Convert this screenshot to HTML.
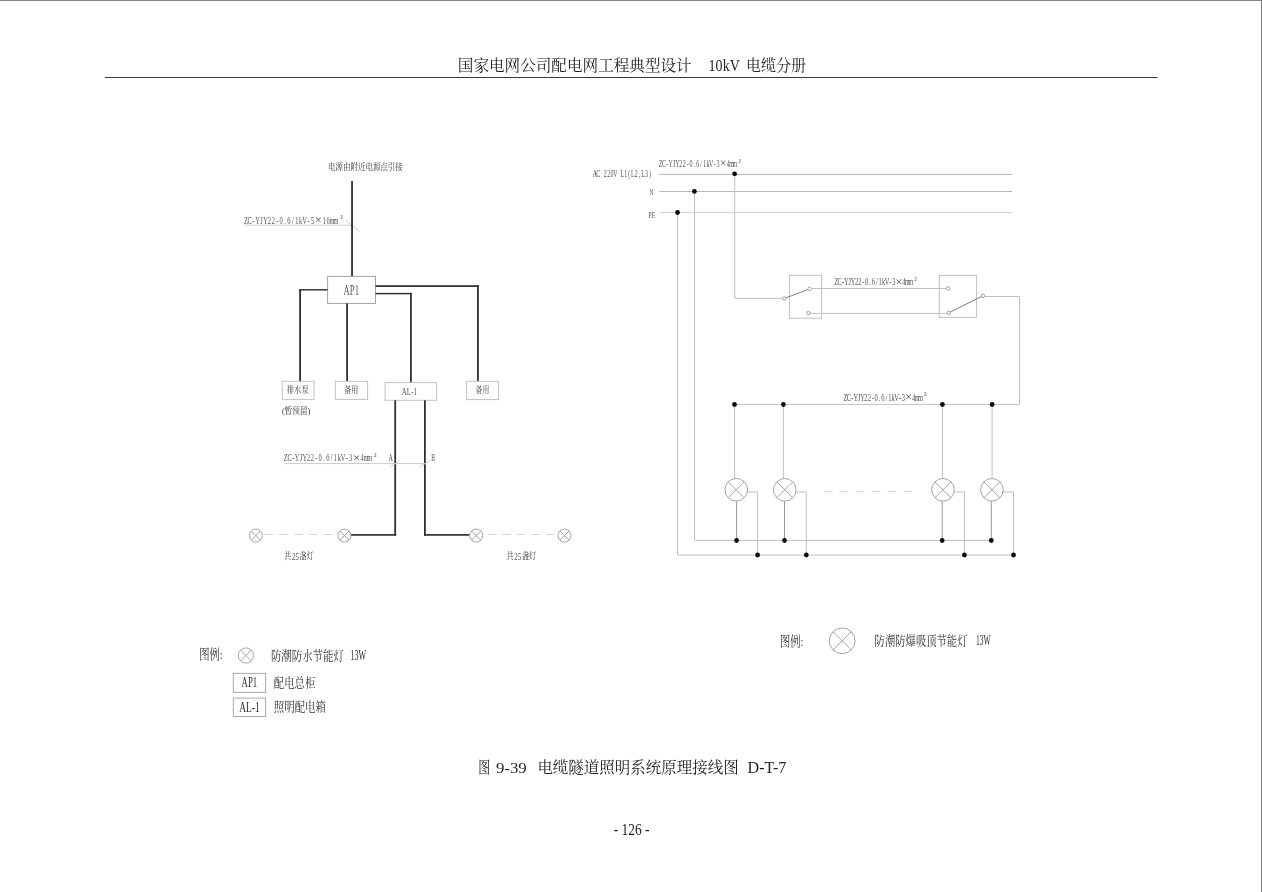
<!DOCTYPE html>
<html lang="zh-CN"><head><meta charset="utf-8"><title>图 9-39 电缆隧道照明系统原理接线图 D-T-7</title>
<style>html,body{margin:0;padding:0;background:#fff}body{width:1262px;height:892px;overflow:hidden;position:relative;font-family:"Liberation Serif","Noto Serif CJK SC",serif}svg{position:absolute;left:0;top:0;display:block;will-change:transform}svg text{font-family:"Liberation Serif","Noto Serif CJK SC",serif;white-space:pre}</style>
</head><body>
<svg width="1262" height="892" viewBox="0 0 1262 892" role="img" aria-label="图 9-39 电缆隧道照明系统原理接线图 D-T-7">
<rect x="0" y="0" width="1262" height="1" fill="#848484"/>
<rect x="1261" y="0" width="1" height="892" fill="#787878"/>
<text x="457.8" y="70.79" font-size="15.8" textLength="233.9" lengthAdjust="spacingAndGlyphs" fill="#1e1e1e">国家电网公司配电网工程典型设计</text>
<text x="708.6" y="70.8" font-size="16" textLength="31.2" lengthAdjust="spacingAndGlyphs" fill="#1e1e1e" font-family="Liberation Serif">10kV</text>
<text x="745.9" y="70.79" font-size="15.8" textLength="60" lengthAdjust="spacingAndGlyphs" fill="#1e1e1e">电缆分册</text>
<rect x="105" y="77" width="1052.5" height="1" fill="#3a3a3a"/>
<text x="478.2" y="772.93" font-size="16.2" textLength="12" lengthAdjust="spacingAndGlyphs" fill="#1e1e1e">图</text>
<text x="495.9" y="772.5" font-size="15.2" textLength="30.9" lengthAdjust="spacingAndGlyphs" fill="#1e1e1e" font-family="Liberation Serif">9-39</text>
<text x="537.4" y="772.79" font-size="15.8" textLength="201.3" lengthAdjust="spacingAndGlyphs" fill="#1e1e1e">电缆隧道照明系统原理接线图</text>
<text x="747.6" y="772.5" font-size="15.8" textLength="38.8" lengthAdjust="spacingAndGlyphs" fill="#1e1e1e" font-family="Liberation Serif">D-T-7</text>
<text x="613.7" y="834.8" font-size="16.2" textLength="35.9" lengthAdjust="spacingAndGlyphs" fill="#1e1e1e" font-family="Liberation Serif">- 126 -</text>
<text x="328" y="170.11" font-size="9.2" textLength="74.8" lengthAdjust="spacingAndGlyphs" fill="#323232">电源由附近电源点引接</text>
<text transform="scale(0.6200,1)" x="393.37 399.4 407.46 411.76 419.82 424.41 431.88 438.21 445.4 450.85 458.47 463.5 470.97 476.14 482.46 487.63 495.98 501.43" y="223.9" font-size="10.4" fill="#555">ZC-YJY22-0.6/1kV-5</text>
<text x="314.8" y="224.1" font-size="12.69" fill="#555">×</text>
<text transform="scale(0.6200,1)" x="520.4 526.72 531.6 537.92" y="223.9" font-size="10.4" fill="#555">16mm</text>
<text transform="scale(0.8,1)" x="425.17" y="222.2" font-size="10.4" fill="#555">²</text>
<path d="M244.3 225.2 L352 225.2" fill="none" stroke="#cbcbcb" stroke-width="1"/>
<path d="M345.8 220.6 L359.5 231.3" fill="none" stroke="#cbcbcb" stroke-width="1"/>
<rect x="351.15" y="181" width="1.8" height="95.4" fill="#303030"/>
<rect x="327.6" y="276.4" width="47.9" height="27" fill="none" stroke="#a4a4a4" stroke-width="1"/>
<text x="343.6" y="294.9" font-size="15.1" textLength="15.4" lengthAdjust="spacingAndGlyphs" fill="#555" font-family="Liberation Serif">AP1</text>
<rect x="299.2" y="289.07" width="28.3" height="1.45" fill="#303030"/>
<rect x="299.2" y="289.07" width="1.8" height="92.23" fill="#303030"/>
<rect x="346.2" y="303.4" width="1.8" height="77.9" fill="#303030"/>
<rect x="375.5" y="292.88" width="36.3" height="1.45" fill="#303030"/>
<rect x="410" y="292.88" width="1.8" height="89.73" fill="#303030"/>
<rect x="375.5" y="285.23" width="103.3" height="1.75" fill="#303030"/>
<rect x="477" y="285.23" width="1.8" height="96.07" fill="#303030"/>
<rect x="282.2" y="381.3" width="31.9" height="18.1" fill="none" stroke="#c2c2c2" stroke-width="1"/>
<text x="286.8" y="393.48" font-size="9.4" textLength="21.9" lengthAdjust="spacingAndGlyphs" fill="#323232">排水泵</text>
<rect x="335.3" y="381.3" width="32.3" height="18.1" fill="none" stroke="#c2c2c2" stroke-width="1"/>
<text x="344.2" y="393.48" font-size="9.4" textLength="14" lengthAdjust="spacingAndGlyphs" fill="#323232">备用</text>
<rect x="385.1" y="382.6" width="51.5" height="17.7" fill="none" stroke="#c2c2c2" stroke-width="1"/>
<text x="401.8" y="394.6" font-size="10.9" textLength="15.2" lengthAdjust="spacingAndGlyphs" fill="#555" font-family="Liberation Serif">AL-1</text>
<rect x="466.6" y="381.3" width="32" height="18.3" fill="none" stroke="#c2c2c2" stroke-width="1"/>
<text x="475.6" y="393.48" font-size="9.4" textLength="13.6" lengthAdjust="spacingAndGlyphs" fill="#323232">备用</text>
<text x="281.9" y="414.21" font-size="9.2" textLength="28.5" lengthAdjust="spacingAndGlyphs" fill="#323232">(暂预留)</text>
<rect x="394.3" y="400.3" width="1.8" height="135.45" fill="#303030"/>
<rect x="350.9" y="534.05" width="45.2" height="1.7" fill="#303030"/>
<rect x="424" y="400.3" width="1.8" height="135.45" fill="#303030"/>
<rect x="424" y="534.05" width="45.6" height="1.7" fill="#303030"/>
<text transform="scale(0.6200,1)" x="457.65 463.53 471.43 475.58 483.48 487.92 495.24 501.41 508.45 513.75 521.22 526.09 533.41 538.43 544.6 549.61 557.8 563.11" y="461.3" font-size="10.4" fill="#555">ZC-YJY22-0.6/1kV-3</text>
<text x="352.9" y="461.5" font-size="12.69" fill="#555">×</text>
<text transform="scale(0.6200,1)" x="581.61 586.34 592.51" y="461.3" font-size="10.4" fill="#555">4mm</text>
<text transform="scale(0.8,1)" x="467.35" y="459.6" font-size="10.4" fill="#555">²</text>
<text x="388.4" y="461.3" font-size="10.2" textLength="4.4" lengthAdjust="spacingAndGlyphs" fill="#555" font-family="Liberation Serif">A</text>
<text x="431.2" y="461.3" font-size="10.2" textLength="3.8" lengthAdjust="spacingAndGlyphs" fill="#555" font-family="Liberation Serif">B</text>
<path d="M284.2 463.6 L425.2 463.6" fill="none" stroke="#cbcbcb" stroke-width="1"/>
<path d="M390.5 467 L399.8 460.3" fill="none" stroke="#cbcbcb" stroke-width="1"/>
<path d="M420.2 467 L429.5 460.3" fill="none" stroke="#cbcbcb" stroke-width="1"/>
<circle cx="255.9" cy="535.6" r="6.5" fill="none" stroke="#a2a2a2" stroke-width="1"/>
<path d="M251.3 531 L260.5 540.2" fill="none" stroke="#a2a2a2" stroke-width="1"/>
<path d="M251.3 540.2 L260.5 531" fill="none" stroke="#a2a2a2" stroke-width="1"/>
<circle cx="344.4" cy="535.6" r="6.5" fill="none" stroke="#a2a2a2" stroke-width="1"/>
<path d="M339.8 531 L349 540.2" fill="none" stroke="#a2a2a2" stroke-width="1"/>
<path d="M339.8 540.2 L349 531" fill="none" stroke="#a2a2a2" stroke-width="1"/>
<circle cx="476.2" cy="535.6" r="6.5" fill="none" stroke="#a2a2a2" stroke-width="1"/>
<path d="M471.6 531 L480.8 540.2" fill="none" stroke="#a2a2a2" stroke-width="1"/>
<path d="M471.6 540.2 L480.8 531" fill="none" stroke="#a2a2a2" stroke-width="1"/>
<circle cx="564.5" cy="535.6" r="6.5" fill="none" stroke="#a2a2a2" stroke-width="1"/>
<path d="M559.9 531 L569.1 540.2" fill="none" stroke="#a2a2a2" stroke-width="1"/>
<path d="M559.9 540.2 L569.1 531" fill="none" stroke="#a2a2a2" stroke-width="1"/>
<path d="M264.2 534.5 L333 534.5" fill="none" stroke="#d6d6d6" stroke-width="1" stroke-dasharray="9 5.8"/>
<path d="M488 534.5 L555 534.5" fill="none" stroke="#d6d6d6" stroke-width="1" stroke-dasharray="8.4 6.1"/>
<text x="284.2" y="559.4" font-size="8.6" textLength="7" lengthAdjust="spacingAndGlyphs" fill="#323232">共</text>
<text x="292" y="559.8" font-size="9.6" textLength="7" lengthAdjust="spacingAndGlyphs" fill="#555" font-family="Liberation Serif">25</text>
<text x="299.6" y="559.4" font-size="8.6" textLength="14" lengthAdjust="spacingAndGlyphs" fill="#323232">盏灯</text>
<text x="506.6" y="559.2" font-size="8.6" textLength="7" lengthAdjust="spacingAndGlyphs" fill="#323232">共</text>
<text x="514.3" y="559.7" font-size="9.6" textLength="7" lengthAdjust="spacingAndGlyphs" fill="#555" font-family="Liberation Serif">25</text>
<text x="521.9" y="559.2" font-size="8.6" textLength="14.3" lengthAdjust="spacingAndGlyphs" fill="#323232">盏灯</text>
<text x="199.2" y="658.55" font-size="13.2" textLength="23.5" lengthAdjust="spacingAndGlyphs" fill="#2e2e2e">图例:</text>
<circle cx="245.9" cy="655.5" r="7.6" fill="none" stroke="#a6a6a6" stroke-width="1"/>
<path d="M240.53 650.13 L251.27 660.87" fill="none" stroke="#a6a6a6" stroke-width="1"/>
<path d="M240.53 660.87 L251.27 650.13" fill="none" stroke="#a6a6a6" stroke-width="1"/>
<text x="270.9" y="660.04" font-size="12.6" textLength="73" lengthAdjust="spacingAndGlyphs" fill="#2e2e2e">防潮防水节能灯</text>
<text x="350.4" y="660.2" font-size="14.4" textLength="15.6" lengthAdjust="spacingAndGlyphs" fill="#2e2e2e" font-family="Liberation Serif">13W</text>
<rect x="233.3" y="673.4" width="32.3" height="19" fill="none" stroke="#a8a8a8" stroke-width="1"/>
<text x="241.6" y="687" font-size="13.8" textLength="15.6" lengthAdjust="spacingAndGlyphs" fill="#2e2e2e" font-family="Liberation Serif">AP1</text>
<text x="273.8" y="686.51" font-size="12.8" textLength="41.5" lengthAdjust="spacingAndGlyphs" fill="#2e2e2e">配电总柜</text>
<rect x="233.3" y="698.1" width="32.3" height="18.4" fill="none" stroke="#a8a8a8" stroke-width="1"/>
<text x="239.3" y="711.6" font-size="13.6" textLength="20.4" lengthAdjust="spacingAndGlyphs" fill="#2e2e2e" font-family="Liberation Serif">AL-1</text>
<text x="273.8" y="710.81" font-size="12.8" textLength="52.2" lengthAdjust="spacingAndGlyphs" fill="#2e2e2e">照明配电箱</text>
<text transform="scale(0.6200,1)" x="1062.54 1067.72 1074.77 1078.35 1085.4 1089.25 1095.77 1101.22 1107.47 1112.12 1118.77 1123.02 1129.54 1133.92 1139.37 1143.75 1151.07 1155.72" y="167" font-size="9.6" fill="#555">ZC-YJY22-0.6/1kV-3</text>
<text x="719.8" y="167.2" font-size="11.71" fill="#555">×</text>
<text transform="scale(0.6200,1)" x="1172.07 1176.19 1181.64" y="167" font-size="9.6" fill="#555">4mm</text>
<text transform="scale(0.8,1)" x="923.1" y="165.3" font-size="9.6" fill="#555">²</text>
<text transform="scale(0.6200,1)" x="956.08 961.88 969.43 973.77 979.31 984.85 989.32 997.13 1000.94 1007.01 1013.35 1017.56 1023.63 1030.37 1034.18 1040.26 1046.6" y="177.4" font-size="9.6" fill="#555">AC 220V L1(L2,L3)</text>
<text x="649.5" y="195.4" font-size="8.6" textLength="3.9" lengthAdjust="spacingAndGlyphs" fill="#555" font-family="Liberation Serif">N</text>
<text x="648.3" y="218" font-size="8.6" textLength="7.2" lengthAdjust="spacingAndGlyphs" fill="#555" font-family="Liberation Serif">PE</text>
<path d="M659.3 174.4 L1012.3 174.4" fill="none" stroke="#b6b6b6" stroke-width="1"/>
<path d="M659.3 191.5 L1012.3 191.5" fill="none" stroke="#b6b6b6" stroke-width="1"/>
<path d="M659.3 212.6 L1012.3 212.6" fill="none" stroke="#d6d6d6" stroke-width="1"/>
<path d="M677.5 212.5 L677.5 555.1 L1013.5 555.1" fill="none" stroke="#c0c0c0" stroke-width="1"/>
<path d="M694.5 191.5 L694.5 540.4 L991.2 540.4" fill="none" stroke="#c0c0c0" stroke-width="1"/>
<path d="M734.7 174 L734.7 298.4 L782.4 298.4" fill="none" stroke="#c0c0c0" stroke-width="1"/>
<circle cx="734.6" cy="173.8" r="2.4" fill="#0a0a0a"/>
<circle cx="694.4" cy="191.4" r="2.4" fill="#0a0a0a"/>
<circle cx="677.5" cy="212.5" r="2.4" fill="#0a0a0a"/>
<rect x="789.4" y="275.3" width="32.2" height="42.9" fill="none" stroke="#c0c0c0" stroke-width="1"/>
<circle cx="784.3" cy="298.5" r="1.75" fill="#fff" stroke="#a0a0a0" stroke-width="1"/>
<circle cx="809.6" cy="288.8" r="1.75" fill="#fff" stroke="#a0a0a0" stroke-width="1"/>
<circle cx="808.4" cy="313.1" r="1.75" fill="#fff" stroke="#a0a0a0" stroke-width="1"/>
<path d="M786.1 297.8 L807.8 289.6" fill="none" stroke="#808080" stroke-width="1"/>
<path d="M811.6 288.5 L946 288.5" fill="none" stroke="#c0c0c0" stroke-width="1"/>
<path d="M810.4 313.4 L946.7 313.4" fill="none" stroke="#c0c0c0" stroke-width="1"/>
<text transform="scale(0.6200,1)" x="1345.52 1350.69 1357.9 1361.34 1368.53 1372.26 1378.88 1384.35 1390.68 1395.27 1402.04 1406.2 1412.82 1417.13 1422.59 1426.9 1434.39 1438.98" y="285.3" font-size="10.4" fill="#555">ZC-YJY22-0.6/1kV-3</text>
<text x="895.28" y="285.5" font-size="12.69" fill="#555">×</text>
<text transform="scale(0.6200,1)" x="1455.37 1459.39 1464.86" y="285.3" font-size="10.4" fill="#555">4mm</text>
<text transform="scale(0.8,1)" x="1142.84" y="283.6" font-size="10.4" fill="#555">²</text>
<rect x="939.3" y="275.4" width="37.3" height="42" fill="none" stroke="#c0c0c0" stroke-width="1"/>
<circle cx="948" cy="288.5" r="1.75" fill="#fff" stroke="#a0a0a0" stroke-width="1"/>
<circle cx="948.7" cy="312.8" r="1.75" fill="#fff" stroke="#a0a0a0" stroke-width="1"/>
<circle cx="982.9" cy="295.9" r="1.75" fill="#fff" stroke="#a0a0a0" stroke-width="1"/>
<path d="M950.3 312 L981.2 296.7" fill="none" stroke="#808080" stroke-width="1"/>
<path d="M984.6 296.5 L1019.5 296.5 L1019.5 404.4 L734.7 404.4" fill="none" stroke="#c0c0c0" stroke-width="1"/>
<text transform="scale(0.6200,1)" x="1360.54 1365.74 1372.96 1376.43 1383.65 1387.41 1394.06 1399.55 1405.91 1410.53 1417.32 1421.51 1428.16 1432.49 1437.98 1442.32 1449.83 1454.45" y="400.8" font-size="10.4" fill="#555">ZC-YJY22-0.6/1kV-3</text>
<text x="904.9" y="401" font-size="12.69" fill="#555">×</text>
<text transform="scale(0.6200,1)" x="1470.92 1474.97 1480.46" y="400.8" font-size="10.4" fill="#555">4mm</text>
<text transform="scale(0.8,1)" x="1154.96" y="399.1" font-size="10.4" fill="#555">²</text>
<path d="M734.5 404.4 L734.5 478.6" fill="none" stroke="#c0c0c0" stroke-width="1"/>
<path d="M736.6 501.1 L736.6 540.4" fill="none" stroke="#9a9a9a" stroke-width="1"/>
<path d="M747.5 491.9 L757.6 491.9 L757.6 555.1" fill="none" stroke="#c0c0c0" stroke-width="1"/>
<circle cx="736.3" cy="489.8" r="11.3" fill="none" stroke="#a4a4a4" stroke-width="1"/>
<path d="M728.31 481.81 L744.29 497.79" fill="none" stroke="#a4a4a4" stroke-width="1"/>
<path d="M728.31 497.79 L744.29 481.81" fill="none" stroke="#a4a4a4" stroke-width="1"/>
<circle cx="734.5" cy="404.5" r="2.4" fill="#0a0a0a"/>
<circle cx="736.6" cy="540.5" r="2.4" fill="#0a0a0a"/>
<circle cx="757.6" cy="555" r="2.4" fill="#0a0a0a"/>
<path d="M783.4 404.4 L783.4 478.6" fill="none" stroke="#c0c0c0" stroke-width="1"/>
<path d="M784.5 501.1 L784.5 540.4" fill="none" stroke="#9a9a9a" stroke-width="1"/>
<path d="M795.95 491.9 L806.3 491.9 L806.3 555.1" fill="none" stroke="#c0c0c0" stroke-width="1"/>
<circle cx="784.75" cy="489.8" r="11.3" fill="none" stroke="#a4a4a4" stroke-width="1"/>
<path d="M776.76 481.81 L792.74 497.79" fill="none" stroke="#a4a4a4" stroke-width="1"/>
<path d="M776.76 497.79 L792.74 481.81" fill="none" stroke="#a4a4a4" stroke-width="1"/>
<circle cx="783.4" cy="404.5" r="2.4" fill="#0a0a0a"/>
<circle cx="784.5" cy="540.5" r="2.4" fill="#0a0a0a"/>
<circle cx="806.3" cy="555" r="2.4" fill="#0a0a0a"/>
<path d="M942.4 404.4 L942.4 478.6" fill="none" stroke="#c0c0c0" stroke-width="1"/>
<path d="M942.2 501.1 L942.2 540.4" fill="none" stroke="#9a9a9a" stroke-width="1"/>
<path d="M954.2 491.9 L964.4 491.9 L964.4 555.1" fill="none" stroke="#c0c0c0" stroke-width="1"/>
<circle cx="943" cy="489.8" r="11.3" fill="none" stroke="#a4a4a4" stroke-width="1"/>
<path d="M935.01 481.81 L950.99 497.79" fill="none" stroke="#a4a4a4" stroke-width="1"/>
<path d="M935.01 497.79 L950.99 481.81" fill="none" stroke="#a4a4a4" stroke-width="1"/>
<circle cx="942.4" cy="404.5" r="2.4" fill="#0a0a0a"/>
<circle cx="942.2" cy="540.5" r="2.4" fill="#0a0a0a"/>
<circle cx="964.4" cy="555" r="2.4" fill="#0a0a0a"/>
<path d="M992.1 404.4 L992.1 478.6" fill="none" stroke="#c0c0c0" stroke-width="1"/>
<path d="M991.3 501.1 L991.3 540.4" fill="none" stroke="#9a9a9a" stroke-width="1"/>
<path d="M1003.1 491.9 L1013.5 491.9 L1013.5 555.1" fill="none" stroke="#c0c0c0" stroke-width="1"/>
<circle cx="991.9" cy="489.8" r="11.3" fill="none" stroke="#a4a4a4" stroke-width="1"/>
<path d="M983.91 481.81 L999.89 497.79" fill="none" stroke="#a4a4a4" stroke-width="1"/>
<path d="M983.91 497.79 L999.89 481.81" fill="none" stroke="#a4a4a4" stroke-width="1"/>
<circle cx="992.1" cy="404.5" r="2.4" fill="#0a0a0a"/>
<circle cx="991.3" cy="540.5" r="2.4" fill="#0a0a0a"/>
<circle cx="1013.5" cy="555" r="2.4" fill="#0a0a0a"/>
<path d="M824.4 491.3 L912.2 491.3" fill="none" stroke="#d2d2d2" stroke-width="1" stroke-dasharray="8.3 7.6"/>
<text x="780" y="645.65" font-size="13.2" textLength="23.4" lengthAdjust="spacingAndGlyphs" fill="#2e2e2e">图例:</text>
<circle cx="842.2" cy="640.8" r="12.9" fill="none" stroke="#a4a4a4" stroke-width="1"/>
<path d="M833.08 631.68 L851.32 649.92" fill="none" stroke="#a4a4a4" stroke-width="1"/>
<path d="M833.08 649.92 L851.32 631.68" fill="none" stroke="#a4a4a4" stroke-width="1"/>
<text x="874.6" y="644.84" font-size="12.6" textLength="92.9" lengthAdjust="spacingAndGlyphs" fill="#2e2e2e">防潮防爆吸顶节能灯</text>
<text x="976" y="645.2" font-size="14.2" textLength="14.6" lengthAdjust="spacingAndGlyphs" fill="#2e2e2e" font-family="Liberation Serif">13W</text>
</svg></body></html>
